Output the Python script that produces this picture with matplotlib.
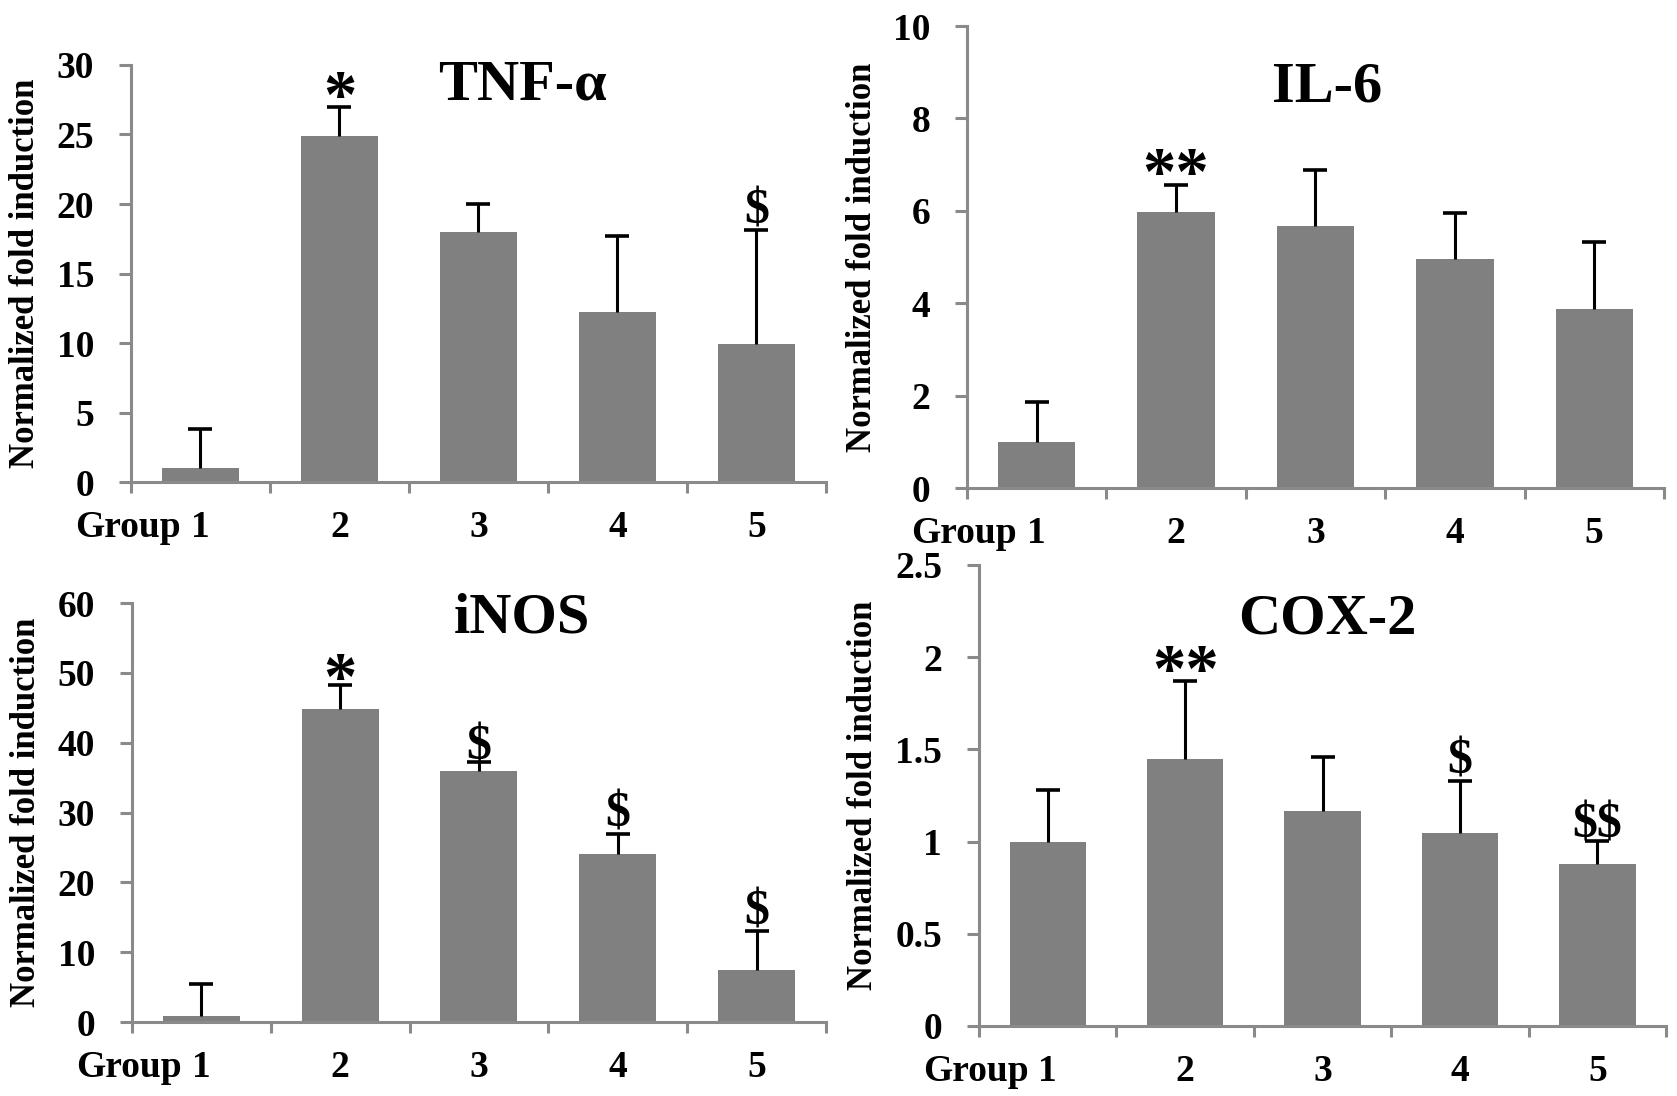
import matplotlib
matplotlib.use('Agg')
import matplotlib.pyplot as plt
from matplotlib.ticker import FuncFormatter

# 字体：Times 风格粗体
plt.rcParams['font.family'] = ['Liberation Serif', 'DejaVu Serif']
plt.rcParams['font.weight'] = 'bold'

SAVE_PATH = 'out.png'

# 组别
groups = ['1', '2', '3', '4', '5']

# TNF-α
tnf_mean = [1.0, 24.9, 18.0, 12.25, 9.9]
tnf_err = [2.85, 2.05, 2.0, 5.45, 8.25]
tnf_marks = ['', '*', '', '', '$']
tnf_mark_y = [0, 28.4, 0, 0, 19.8]

# IL-6
il6_mean = [1.0, 5.97, 5.68, 4.95, 3.87]
il6_err = [0.87, 0.6, 1.21, 1.01, 1.46]
il6_marks = ['', '**', '', '', '']
il6_mark_y = [0, 7.02, 0, 0, 0]

# iNOS
inos_mean = [0.9, 44.8, 36.0, 24.0, 7.5]
inos_err = [4.5, 3.5, 1.3, 2.9, 5.5]
inos_marks = ['', '*', '$', '$', '$']
inos_mark_y = [0, 50.6, 40.0, 30.4, 16.4]

# COX-2
cox_mean = [1.0, 1.45, 1.167, 1.047, 0.88]
cox_err = [0.28, 0.42, 0.29, 0.28, 0.125]
cox_marks = ['', '**', '', '$', '$$']
cox_mark_y = [0, 1.98, 0, 1.46, 1.115]

BAR_COLOR = '#808080'
AXIS_COLOR = '#8a8a8a'
TICK_SIZE = 27


def plot_panel(ax, title, mean, err, marks, mark_y, ymax, ystep,
               title_pos, ylabel_x, fmt='%g'):
    """画一个带误差线的柱状图"""
    x = [i + 0.5 for i in range(len(groups))]
    ax.bar(x, mean, width=0.555, color=BAR_COLOR, zorder=2)

    # 只要向上的误差线
    eb = ax.errorbar(x, mean, yerr=[[0] * len(err), err], fmt='none',
                     ecolor='black', elinewidth=2.2, capsize=8.5,
                     capthick=2.6, zorder=3)
    eb[1][0].set_visible(False)

    # 显著性标记
    for xi, m, my in zip(x, marks, mark_y):
        if not m:
            continue
        if '*' in m:
            ax.annotate(m, xy=(xi, my), xytext=(0, -21), textcoords='offset points',
                        ha='center', va='baseline', fontsize=48, fontweight='bold',
                        parse_math=False)
        else:
            ax.annotate(m, xy=(xi, my), xytext=(0, -12), textcoords='offset points',
                        ha='center', va='baseline', fontsize=36, fontweight='bold',
                        parse_math=False)

    ax.text(title_pos[0], title_pos[1], title, transform=ax.transAxes,
            ha='center', va='center', fontsize=42, fontweight='bold')

    ax.set_xlim(0, len(groups))
    ax.set_ylim(0, ymax)
    n = int(round(ymax / ystep))
    ax.set_yticks([i * ystep for i in range(n + 1)])
    ax.yaxis.set_major_formatter(FuncFormatter(lambda v, p: fmt % v))

    # x 轴：刻度在组间边界，标签在组中心
    ax.set_xticks(range(len(groups) + 1))
    ax.set_xticklabels([])
    ax.set_xticks(x, minor=True)
    ax.set_xticklabels(groups, minor=True)
    ax.tick_params(axis='x', which='major', direction='out', length=8,
                   width=2.2, color=AXIS_COLOR)
    ax.tick_params(axis='x', which='minor', length=0, pad=20, labelsize=TICK_SIZE)
    ax.tick_params(axis='y', direction='out', length=8.6, width=2.2,
                   color=AXIS_COLOR, pad=18, labelsize=TICK_SIZE)
    ax.annotate('Group', xy=(0.5, 0), xycoords=('data', 'axes fraction'),
                xytext=(-14, -20), textcoords='offset points',
                ha='right', va='top', fontsize=TICK_SIZE, fontweight='bold')

    for side in ['top', 'right']:
        ax.spines[side].set_visible(False)
    for side in ['left', 'bottom']:
        ax.spines[side].set_color(AXIS_COLOR)
        ax.spines[side].set_linewidth(2.2)

    ax.set_ylabel('Normalized fold induction', fontsize=25, fontweight='bold')
    ax.yaxis.set_label_coords(ylabel_x, 0.5)


def main():
    fig = plt.figure(figsize=(16.77, 10.96), dpi=100)

    ax1 = fig.add_axes([0.0781, 0.5602, 0.4144, 0.3805])
    ax2 = fig.add_axes([0.5766, 0.5547, 0.4156, 0.4215])
    ax3 = fig.add_axes([0.0787, 0.0675, 0.4138, 0.3823])
    ax4 = fig.add_axes([0.5838, 0.0639, 0.4097, 0.4206])

    plot_panel(ax1, 'TNF-α', tnf_mean, tnf_err, tnf_marks, tnf_mark_y,
               30, 5, (0.563, 0.952), -0.128)
    plot_panel(ax2, 'IL-6', il6_mean, il6_err, il6_marks, il6_mark_y,
               10, 2, (0.517, 0.866), -0.126)
    plot_panel(ax3, 'iNOS', inos_mean, inos_err, inos_marks, inos_mark_y,
               60, 10, (0.562, 0.964), -0.128)
    plot_panel(ax4, 'COX-2', cox_mean, cox_err, cox_marks, cox_mark_y,
               2.5, 0.5, (0.507, 0.881), -0.144)

    fig.savefig(SAVE_PATH, dpi=100)


if __name__ == '__main__':
    main()
